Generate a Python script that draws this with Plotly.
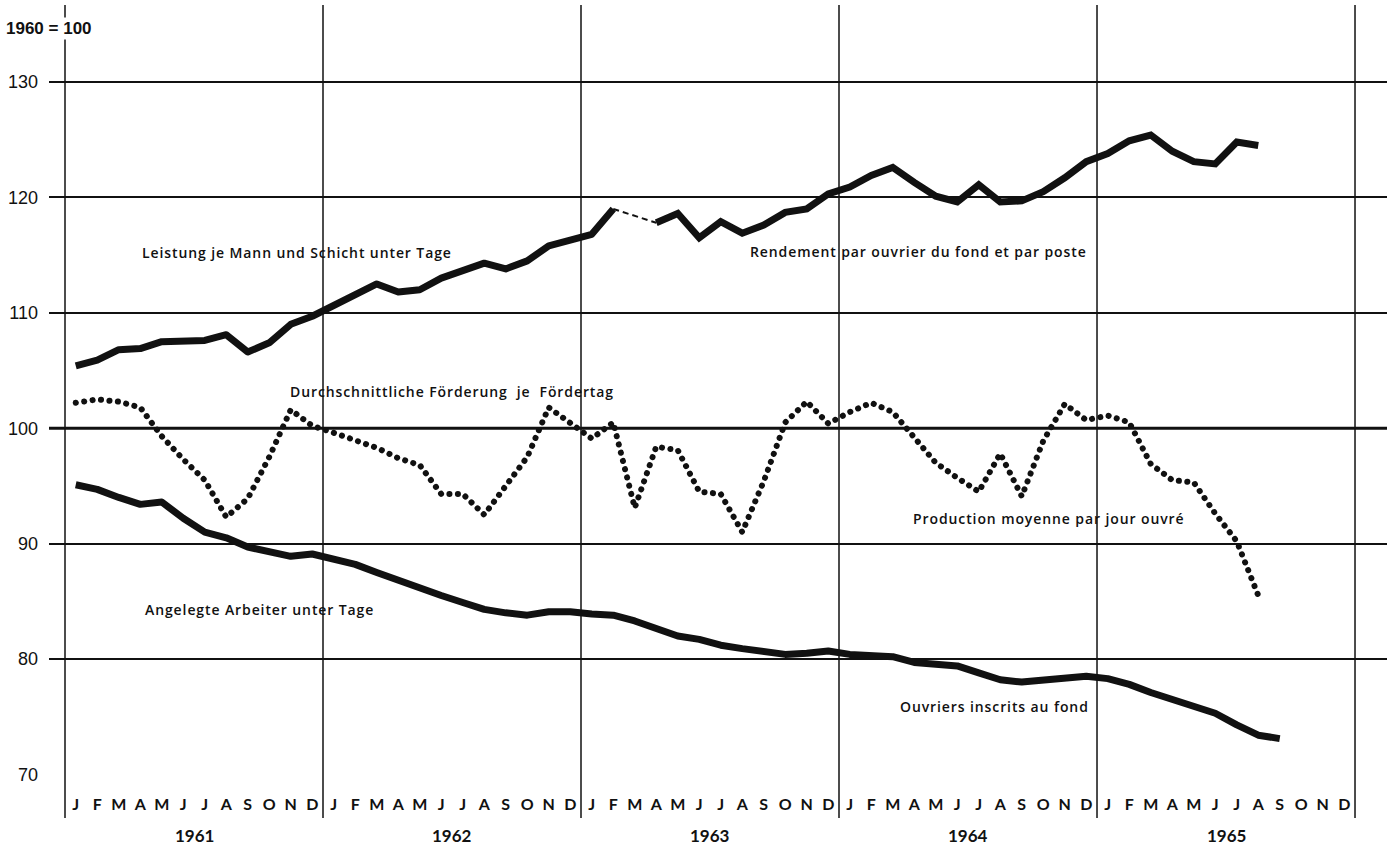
import plotly.graph_objects as go

# ---------------- data (monthly, Jan 1961 .. Dec 1965) ----------------
years = ["1961", "1962", "1963", "1964", "1965"]
month_letters = ["J", "F", "M", "A", "M", "J", "J", "A", "S", "O", "N", "D"]

# Leistung je Mann und Schicht unter Tage (1960 = 100); Mar 1963 missing
leistung = [
    105.4, 105.9, 106.8, 106.9, 107.5, 107.6, 107.6, 108.1, 106.6, 107.4, 109.0, 109.7,
    110.6, 111.5, 112.5, 111.8, 112.0, 113.0, 113.6, 114.3, 113.8, 114.5, 115.8, 116.3,
    116.8, 119.0, None, 117.8, 118.6, 116.5, 117.9, 116.9, 117.6, 118.7, 119.0, 120.3,
    120.9, 121.9, 122.6, 121.3, 120.1, 119.6, 121.1, 119.6, 119.7, 120.5, 121.7, 123.1,
    123.8, 124.9, 125.4, 124.0, 123.1, 122.9, 124.8, 124.5, None, None, None, None,
]
# Durchschnittliche Förderung je Fördertag
foerderung = [
    102.2, 102.5, 102.3, 101.8, 99.3, 97.3, 95.5, 92.3, 93.9, 97.5, 101.6, 100.2,
    99.6, 98.9, 98.3, 97.4, 96.8, 94.3, 94.3, 92.5, 95.1, 97.5, 101.8, 100.4,
    99.1, 100.5, 93.1, 98.4, 98.1, 94.5, 94.3, 91.0, 95.4, 100.5, 102.3, 100.4,
    101.4, 102.2, 101.4, 99.2, 97.0, 95.7, 94.5, 97.8, 94.1, 98.9, 102.1, 100.7,
    101.1, 100.5, 96.9, 95.5, 95.3, 92.6, 90.2, 85.5, None, None, None, None,
]
# Angelegte Arbeiter unter Tage
arbeiter = [
    95.1, 94.7, 94.0, 93.4, 93.6, 92.2, 91.0, 90.5, 89.7, 89.3, 88.9, 89.1,
    88.6, 88.2, 87.5, 86.8, 86.1, 85.5, 84.9, 84.3, 84.0, 83.8, 84.1, 84.1,
    83.9, 83.8, 83.3, 82.6, 82.0, 81.7, 81.2, 80.9, 80.6, 80.4, 80.5, 80.7,
    80.4, 80.3, 80.2, 79.7, 79.5, 79.4, 78.8, 78.2, 78.0, 78.2, 78.4, 78.5,
    78.3, 77.8, 77.1, 76.5, 76.0, 75.3, 74.3, 73.4, 73.1, None, None, None,
]
y_ticks = [70, 80, 90, 100, 110, 120, 130]

# ---------------- figure ----------------
months = list(range(len(years) * 12))
tick_text = month_letters * len(years)
gap_idx = [i for i, v in enumerate(leistung) if v is None and i < 40][0]

fig = go.Figure()
fig.add_trace(go.Scatter(x=months, y=leistung, mode="lines", connectgaps=False,
                         line=dict(color="#111111", width=7), hoverinfo="skip"))
fig.add_trace(go.Scatter(x=[gap_idx - 1, gap_idx + 1],
                         y=[leistung[gap_idx - 1], leistung[gap_idx + 1]],
                         mode="lines", line=dict(color="#111111", width=2, dash="6px,4px"),
                         hoverinfo="skip"))
fig.add_trace(go.Scatter(x=months, y=foerderung, mode="lines",
                         line=dict(color="#111111", width=6, dash="5px,4px"),
                         hoverinfo="skip"))
fig.add_trace(go.Scatter(x=months, y=arbeiter, mode="lines",
                         line=dict(color="#111111", width=7), hoverinfo="skip"))

# vertical year separators
for k in range(len(years) + 1):
    fig.add_shape(type="line", xref="x", yref="paper", x0=12 * k - 0.5, x1=12 * k - 0.5,
                  y0=-0.056, y1=1.0, line=dict(color="#111111", width=1.5), layer="below")
# heavier base line 100
fig.add_shape(type="line", xref="paper", yref="y", x0=0, x1=1, y0=100, y1=100,
              line=dict(color="#111111", width=3), layer="below")

label_font = dict(family="Open Sans, Lato, sans-serif", size=14, color="#111111",
                  weight=600)
labels = [
    ("Leistung je Mann und Schicht unter Tage", 2.99, 115.25),
    ("Rendement par ouvrier du fond et par poste", 31.27, 115.34),
    ("Durchschnittliche Förderung  je  Fördertag", 9.87, 103.2),
    ("Production moyenne par jour ouvré", 38.85, 92.2),
    ("Angelegte Arbeiter unter Tage", 3.13, 84.3),
    ("Ouvriers inscrits au fond", 38.24, 75.9),
]
for txt, x, y in labels:
    fig.add_annotation(text='<span style="letter-spacing:0.9px">' + txt + "</span>",
                       x=x, y=y, xref="x", yref="y", xanchor="left",
                       yanchor="middle", showarrow=False, font=label_font)

for k, yr in enumerate(years):
    fig.add_annotation(text=yr, x=12 * k + 5.5, y=-0.078, xref="x", yref="paper",
                       xanchor="center", yanchor="middle", showarrow=False,
                       font=dict(family="Lato, sans-serif", size=17, color="#111111",
                                 weight="bold"))

fig.add_annotation(text="1960 = 100", x=-0.034, y=0.97, xref="paper", yref="paper",
                   xanchor="left", yanchor="middle", showarrow=False, bgcolor="white",
                   font=dict(family="Liberation Sans Narrow, Liberation Sans, sans-serif",
                             size=17, color="#111111", weight="bold"))

fig.update_layout(
    width=1387, height=848,
    margin=dict(l=49, r=0, t=5, b=73),
    paper_bgcolor="white", plot_bgcolor="white",
    showlegend=False,
    xaxis=dict(range=[-1.244, 60.988], showgrid=False, zeroline=False, showline=False,
               tickmode="array", tickvals=months, ticktext=tick_text, ticks="",
               ticklabelstandoff=18,
               tickfont=dict(family="Lato, sans-serif", size=16, color="#111111",
                             weight="bold")),
    yaxis=dict(range=[69.95, 136.67], tickmode="array", tickvals=y_ticks,
               showgrid=True, gridcolor="#111111", gridwidth=1.5, zeroline=False,
               showline=False, ticks="", ticklabelstandoff=10,
               tickfont=dict(family="Liberation Sans Narrow, Liberation Sans, sans-serif",
                             size=18, color="#111111")),
)

post = """
document.body.style.margin='0';
var gd = document.getElementById('{plot_id}');
var tr = gd.querySelectorAll('.scatterlayer .trace');
tr.forEach(function(t, i){
  var p = t.querySelector('path.js-line'); if(!p) return;
  p.style.strokeLinejoin = 'round';
  if (i === 2) { p.style.strokeLinecap = 'round'; p.style.strokeDasharray = '0.1px,8.4px'; }
});
"""
fig.write_html("out.html", post_script=post, config={"displayModeBar": False})
